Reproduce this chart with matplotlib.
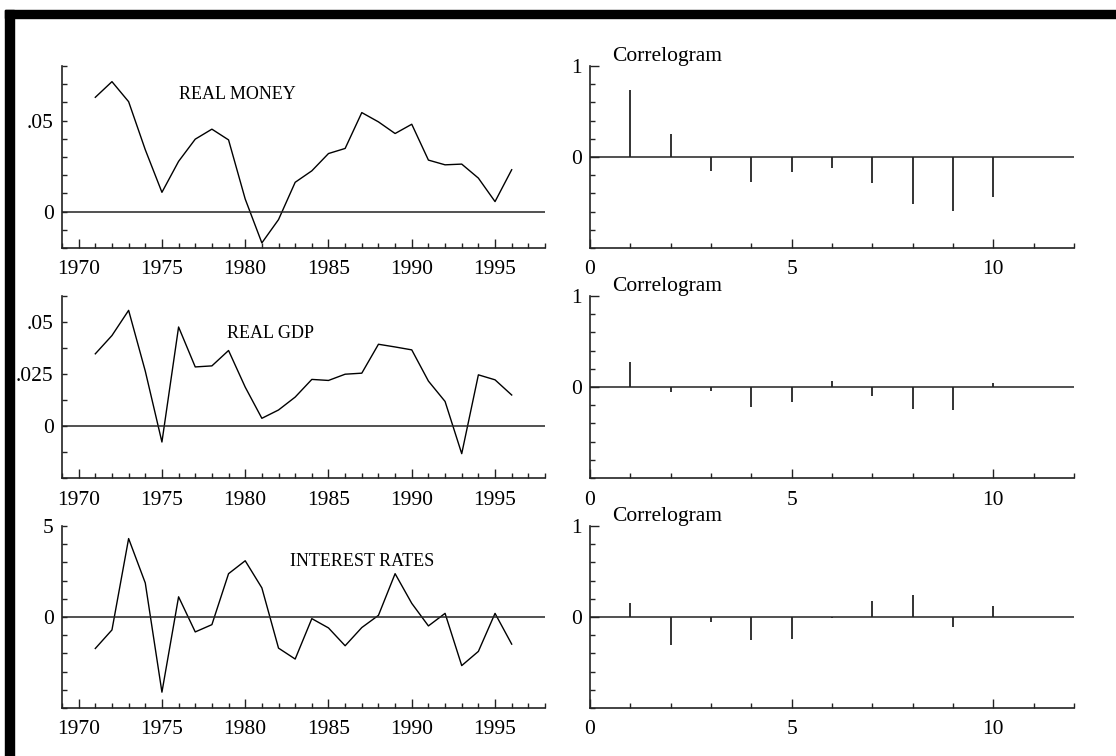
"""Three growth series (real money, real GDP, interest rates) with their
correlograms, laid out as a 3x2 grid with a black frame on top and left."""
import matplotlib
matplotlib.use("Agg")
import matplotlib.pyplot as plt
from matplotlib.ticker import MultipleLocator
from matplotlib.patches import Rectangle

plt.rcParams["font.family"] = ["Liberation Serif", "DejaVu Serif"]

years = list(range(1971, 1997))
real_money = [0.0628, 0.0714, 0.0604, 0.0340, 0.0106, 0.0276, 0.0398, 0.0453,
              0.0394, 0.0069, -0.0172, -0.0044, 0.0161, 0.0224, 0.0319, 0.0347,
              0.0544, 0.0493, 0.0429, 0.0480, 0.0283, 0.0257, 0.0261, 0.0184,
              0.0055, 0.0230]
real_gdp = [0.0347, 0.0435, 0.0556, 0.0264, -0.0077, 0.0476, 0.0284, 0.0289,
            0.0363, 0.0187, 0.0037, 0.0077, 0.0139, 0.0224, 0.0219, 0.0249,
            0.0254, 0.0393, 0.0380, 0.0366, 0.0216, 0.0118, -0.0133, 0.0246,
            0.0222, 0.0149]
interest_rates = [-1.73, -0.71, 4.31, 1.87, -4.13, 1.11, -0.82, -0.42, 2.38,
                  3.09, 1.60, -1.71, -2.31, -0.09, -0.60, -1.58, -0.58, 0.09,
                  2.38, 0.75, -0.49, 0.20, -2.67, -1.89, 0.20, -1.49]

lags = list(range(1, 11))
acf_money = [0.74, 0.25, -0.155, -0.27, -0.167, -0.12, -0.29, -0.52, -0.59, -0.44]
acf_gdp = [0.28, -0.055, -0.044, -0.22, -0.165, 0.066, -0.099, -0.24, -0.256, 0.04]
acf_interest = [0.15, -0.31, -0.055, -0.25, -0.24, -0.007, 0.176, 0.245, -0.11, 0.12]

series_names = ["REAL MONEY", "REAL GDP", "INTEREST RATES"]
year_ticks = [1970, 1975, 1980, 1985, 1990, 1995]
lag_ticks = [0, 5, 10]
money_yticks, money_ylabels = [0, 0.05], ["0", ".05"]
gdp_yticks, gdp_ylabels = [0, 0.025, 0.05], ["0", ".025", ".05"]
rate_yticks, rate_ylabels = [0, 5], ["0", "5"]
acf_yticks, acf_ylabels = [0, 1], ["0", "1"]

W, H = 1116, 756
fig = plt.figure(figsize=(W / 100, H / 100), dpi=100)

# black frame (top and left edges only)
fig.patches.append(Rectangle((5 / W, 1 - 18 / H), 1 - 5 / W, 8 / H,
                             transform=fig.transFigure, color="black", zorder=0))
fig.patches.append(Rectangle((5 / W, 0), 9 / W, 1 - 10 / H,
                             transform=fig.transFigure, color="black", zorder=0))

rows = [
    (real_money, acf_money, (-0.02, 0.08), 0.01, money_yticks, money_ylabels,
     (1979.5, 0.0644)),
    (real_gdp, acf_gdp, (-0.025, 0.0625), 0.0125, gdp_yticks, gdp_ylabels,
     (1981.5, 0.0447)),
    (interest_rates, acf_interest, (-5, 5), 1, rate_yticks, rate_ylabels,
     (1987.0, 3.05)),
]
row_top = [66, 296, 526]
ph = 182


def style(ax):
    for s in ("top", "right"):
        ax.spines[s].set_visible(False)
    for s in ("left", "bottom"):
        ax.spines[s].set_linewidth(1.2)
        ax.spines[s].set_color("#222222")
    ax.tick_params(which="both", direction="in", labelsize=15.5, width=1,
                   color="#222222")
    ax.tick_params(axis="x", which="major", length=6.5, pad=9)
    ax.tick_params(axis="x", which="minor", length=3.6)
    ax.tick_params(axis="y", which="minor", length=3.6)
    ax.tick_params(axis="y", which="major", pad=6)


for i, (vals, acf, ylim, ystep, yt, yl, lab) in enumerate(rows):
    bottom = 1 - (row_top[i] + ph) / H
    # left: the series itself
    ax = fig.add_axes([62 / W, bottom, 483 / W, ph / H])
    ax.plot(years, vals, color="black", lw=1.0)
    ax.axhline(0, color="#222222", lw=1.1)
    ax.set_xlim(1969, 1998)
    ax.set_ylim(*ylim)
    ax.set_xticks(year_ticks)
    ax.xaxis.set_minor_locator(MultipleLocator(1))
    ax.set_yticks(yt, yl)
    ax.yaxis.set_minor_locator(MultipleLocator(ystep))
    style(ax)
    ax.tick_params(axis="y", which="major", length=3.6)
    ax.text(lab[0], lab[1], series_names[i], ha="center", va="center",
            fontsize=13)

    # right: correlogram
    ax = fig.add_axes([590 / W, bottom, 484 / W, ph / H])
    ax.vlines(lags, 0, acf, color="#333333", lw=1.4)
    ax.axhline(0, color="#222222", lw=1.1)
    ax.set_xlim(0, 12)
    ax.set_ylim(-1, 1)
    ax.set_xticks(lag_ticks)
    ax.xaxis.set_minor_locator(MultipleLocator(1))
    ax.set_yticks(acf_yticks, acf_ylabels)
    ax.yaxis.set_minor_locator(MultipleLocator(0.2))
    style(ax)
    ax.tick_params(axis="y", which="major", length=6.5)
    ax.text(0.55, 1.06, "Correlogram", ha="left", va="baseline",
            fontsize=15.5, clip_on=False)

fig.savefig("out.png", dpi=100, facecolor="white")
